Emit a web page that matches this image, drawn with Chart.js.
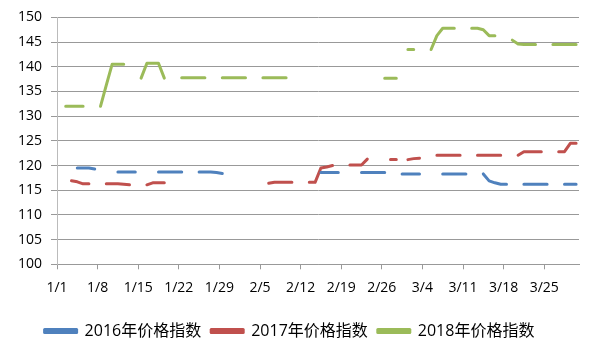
<!DOCTYPE html>
<html><head><meta charset="utf-8">
<script src="https://cdn.jsdelivr.net/npm/chart.js@4.4.1/dist/chart.umd.min.js"></script>
<style>html,body{margin:0;padding:0;background:#fff;}#wrap{width:593px;height:353px;}</style>
</head><body><div id="wrap"><canvas id="c" width="593" height="353"></canvas></div>
<script>
// Date categories (shared axis, leap-year calendar 1/1 .. 3/30)
const categories = [
 '1/1','1/2','1/3','1/4','1/5','1/6','1/7','1/8','1/9','1/10','1/11','1/12','1/13','1/14','1/15','1/16','1/17','1/18','1/19','1/20','1/21','1/22','1/23','1/24','1/25','1/26','1/27','1/28','1/29','1/30','1/31',
 '2/1','2/2','2/3','2/4','2/5','2/6','2/7','2/8','2/9','2/10','2/11','2/12','2/13','2/14','2/15','2/16','2/17','2/18','2/19','2/20','2/21','2/22','2/23','2/24','2/25','2/26','2/27','2/28','2/29',
 '3/1','3/2','3/3','3/4','3/5','3/6','3/7','3/8','3/9','3/10','3/11','3/12','3/13','3/14','3/15','3/16','3/17','3/18','3/19','3/20','3/21','3/22','3/23','3/24','3/25','3/26','3/27','3/28','3/29','3/30'
];
const tickLabels = ['1/1','1/8','1/15','1/22','1/29','2/5','2/12','2/19','2/26','3/4','3/11','3/18','3/25'];
const seriesNames = ['2016年价格指数','2017年价格指数','2018年价格指数'];
const _ = null;
const index2016 = [
 _,_,_,119.5,119.5,119.5,119.3,_,_,_,118.7,118.7,118.7,118.7,_,_,_,118.7,118.7,118.7,118.7,118.7,_,_,118.7,118.7,118.7,118.6,118.4,_,_,
 _,_,_,_,_,_,_,_,_,_,_,_,_,_,118.6,118.6,118.6,118.6,_,_,_,118.6,118.6,118.6,118.6,118.6,_,_,118.3,
 118.3,118.3,118.3,_,_,_,118.3,118.3,118.3,118.3,118.3,_,_,118.3,116.9,116.5,116.2,116.2,_,_,116.2,116.2,116.2,116.2,116.2,_,_,116.2,116.2,116.2
];
const index2017 = [
 _,_,116.9,116.7,116.3,116.3,_,_,116.3,116.3,116.3,116.2,116.1,_,_,116.1,116.5,116.5,116.5,_,_,_,_,_,_,_,_,_,_,_,_,
 _,_,_,_,_,116.4,116.6,116.6,116.6,116.6,_,_,116.6,116.6,119.5,119.7,120.0,_,_,120.1,120.1,120.1,121.3,_,_,_,121.2,121.2,_,
 121.2,121.4,121.5,_,_,122.1,122.1,122.1,122.1,122.1,_,_,122.1,122.1,122.1,122.1,122.1,_,_,122.1,122.8,122.8,122.8,122.8,_,_,122.8,122.8,124.5,124.5
];
const index2018 = [
 _,132.0,132.0,132.0,132.0,_,_,132.0,136.3,140.5,140.5,140.5,_,_,137.7,140.7,140.7,140.7,137.7,_,_,137.8,137.8,137.8,137.8,137.8,_,_,137.8,137.8,137.8,
 137.8,137.8,_,_,137.8,137.8,137.8,137.8,137.8,_,_,_,_,_,_,_,_,_,_,_,_,_,_,_,_,137.7,137.7,137.7,_,
 143.5,143.5,_,_,143.5,146.3,147.8,147.8,147.8,_,_,147.8,147.8,147.5,146.3,146.3,_,_,145.4,144.6,144.5,144.5,144.5,_,_,144.5,144.5,144.5,144.5,144.5
];
const seriesValues = [index2016, index2017, index2018];
const colors = ['#4F81BD','#C0504D','#9BBB59'];
const FONT = "'Open Sans','Noto Sans CJK SC',sans-serif";

new Chart(document.getElementById('c'), {
  type: 'line',
  data: {
    datasets: seriesNames.map((name, k) => ({
      label: name,
      data: seriesValues[k].map((v, i) => ({x: i + 0.5, y: v})),
      borderColor: colors[k],
      backgroundColor: colors[k],
      borderWidth: 3,
      pointRadius: 0,
      pointHoverRadius: 0,
      spanGaps: false,
      tension: 0,
      borderCapStyle: 'round',
      borderJoinStyle: 'round',
      fill: false
    }))
  },
  options: {
    responsive: false,
    animation: false,
    layout: {padding: {left: 0, right: 14, top: 13, bottom: 4}},
    plugins: {
      legend: {
        position: 'bottom',
        labels: {boxWidth: 32, boxHeight: 3, padding: 10, color: '#000', font: {family: FONT, size: 16}}
      },
      tooltip: {enabled: false}
    },
    scales: {
      x: {
        type: 'linear',
        min: 0,
        max: categories.length,
        afterBuildTicks: s => { s.ticks = tickLabels.map(t => ({value: categories.indexOf(t)})); },
        ticks: {
          autoSkip: false, maxRotation: 0, minRotation: 0, padding: 10, color: '#000',
          font: {family: FONT, size: 14},
          callback: (v, i) => tickLabels[i]
        },
        grid: {drawOnChartArea: false, drawTicks: true, tickLength: 5, color: '#999'},
        border: {display: true, color: '#999'},
        afterFit: s => { s.height = 48.7; }
      },
      y: {
        min: 100, max: 150,
        ticks: {stepSize: 5, padding: 9, color: '#000', font: {family: FONT, size: 14}},
        grid: {color: '#999', tickLength: 6},
        border: {display: true, color: '#bbb'},
        afterFit: s => { s.width = 57; }
      }
    }
  }
});
</script>
</body></html>
